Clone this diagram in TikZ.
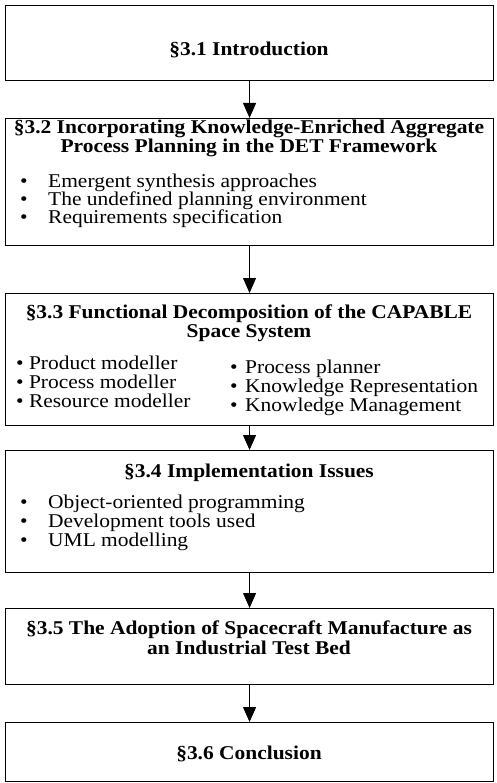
\documentclass[tikz,border=0pt]{standalone}
\usepackage{fontspec}
\setmainfont[FakeStretch=1.1]{Liberation Serif}
\usetikzlibrary{arrows.meta}
\begin{document}
\begin{tikzpicture}[x=1pt,y=-1pt,
  box/.style={draw, line width=1.1pt, minimum width=488pt, inner sep=0pt, anchor=north west},
  ttl/.style={font=\fontsize{19.5}{19.5}\selectfont\bfseries, inner sep=0pt, anchor=base},
  itm/.style={font=\fontsize{19.5}{19.5}\selectfont, inner sep=0pt, anchor=base west},
  arr/.style={line width=1pt, -{Triangle[length=15pt,width=13pt]}}]
\useasboundingbox (0,0) rectangle (497,783);
% boxes
\node[box, minimum height=75pt]  (b1) at (5,5) {};
\node[box, minimum height=127pt] (b2) at (5,118) {};
\node[box, minimum height=132pt] (b3) at (5,293) {};
\node[box, minimum height=122pt] (b4) at (5,450) {};
\node[box, minimum height=76pt]  (b5) at (5,608) {};
\node[box, minimum height=59pt]  (b6) at (5,722) {};
% box 1
\node[ttl] (t1) at (249,56) {§3.1 Introduction};
% box 2
\node[ttl] (t2a) at (249,134) {§3.2 Incorporating Knowledge-Enriched Aggregate};
\node[ttl] (t2b) at (249,153) {Process Planning in the DET Framework};
\node[itm] (d2a) at (20,188) {•};
\node[itm] (i2a) at (48,188) {Emergent synthesis approaches};
\node[itm] (d2b) at (20,206) {•};
\node[itm] (i2b) at (48,206) {The undefined planning environment};
\node[itm] (d2c) at (20,224) {•};
\node[itm] (i2c) at (48,224) {Requirements specification};
% box 3
\node[ttl] (t3a) at (249,318) {§3.3 Functional Decomposition of the CAPABLE};
\node[ttl] (t3b) at (249,337) {Space System};
\node[itm] (i3a) at (16,369) {• Product modeller};
\node[itm] (i3b) at (16,388) {• Process modeller};
\node[itm] (i3c) at (16,407) {• Resource modeller};
\node[itm] (d3d) at (230,373) {•};
\node[itm] (i3d) at (245,373) {Process planner};
\node[itm] (d3e) at (230,392) {•};
\node[itm] (i3e) at (245,392) {Knowledge Representation};
\node[itm] (d3f) at (230,411) {•};
\node[itm] (i3f) at (245,411) {Knowledge Management};
% box 4
\node[ttl] (t4) at (249,477) {§3.4 Implementation Issues};
\node[itm] (d4a) at (20,508) {•};
\node[itm] (i4a) at (48,508) {Object-oriented programming};
\node[itm] (d4b) at (20,527) {•};
\node[itm] (i4b) at (48,527) {Development tools used};
\node[itm] (d4c) at (20,546) {•};
\node[itm] (i4c) at (48,546) {UML modelling};
% box 5
\node[ttl] (t5a) at (249,634) {§3.5 The Adoption of Spacecraft Manufacture as};
\node[ttl] (t5b) at (249,654) {an Industrial Test Bed};
% box 6
\node[ttl] (t6) at (249,759) {§3.6 Conclusion};
% arrows
\draw[arr] (b1.south) -- (b2.north);
\draw[arr] (b2.south) -- (b3.north);
\draw[arr] (b3.south) -- (b4.north);
\draw[arr] (b4.south) -- (b5.north);
\draw[arr] (b5.south) -- (b6.north);
\end{tikzpicture}
\end{document}
